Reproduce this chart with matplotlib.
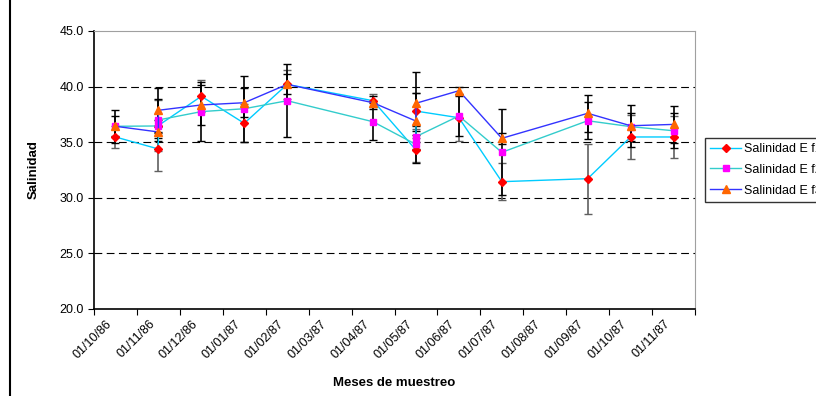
import numpy as np
import matplotlib.pyplot as plt
import matplotlib.transforms as mtransforms
from matplotlib.lines import Line2D

plt.rcParams['font.family'] = ['Liberation Sans', 'DejaVu Sans']

# sampling months (two samplings in 11/86 and 05/87)
muestreo = ['10/86', '11/86', '11/86', '12/86', '01/87', '02/87', '04/87',
            '05/87', '05/87', '06/87', '07/87', '09/87', '10/87', '11/87']

sal_f1 = [35.47, 34.39, 36.50, 39.13, 36.70, 40.20, 38.73,
          34.30, 37.80, 37.20, 31.45, 31.72, 35.47, 35.47]
err_f1 = [1.00, 2.00, 2.30, 1.44, 1.70, 1.30, 0.60,
          1.10, 1.60, 2.10, 1.65, 3.15, 1.97, 1.85]

sal_f2 = [36.43, 36.46, 37.00, 37.75, 38.01, 38.73, 36.84,
          34.80, 35.50, 37.36, 34.09, 36.93, 36.40, 36.03]
err_f2 = [0.90, 0.50, 1.90, 2.65, 2.97, 3.30, 1.65,
          1.70, 0.50, 1.80, 3.88, 1.65, 1.25, 1.57]

sal_f3 = [36.43, 35.92, 37.87, 38.35, 38.55, 40.20, 38.55,
          36.90, 38.50, 39.63, 35.35, 37.60, 36.48, 36.60]
err_f3 = [1.50, 0.50, 2.00, 1.80, 1.30, 0.90, 0.60,
          2.50, 2.84, 0.30, 0.50, 1.67, 1.90, 1.65]

tick_labels = ['01/10/86', '01/11/86', '01/12/86', '01/01/87', '01/02/87',
               '01/03/87', '01/04/87', '01/05/87', '01/06/87', '01/07/87',
               '01/08/87', '01/09/87', '01/10/87', '01/11/87']


def month_pos(s):
    m, y = s.split('/')
    return (int(y) - 86) * 12 + int(m) - 10 + 0.5


x = np.array([month_pos(s) for s in muestreo])

fig = plt.figure(figsize=(8.16, 3.96), dpi=100)
ax = fig.add_axes([94 / 816, 1 - 309 / 396, 601 / 816, 278 / 396])

for yv in [25, 30, 35, 40]:
    ax.axhline(yv, color='black', lw=0.8, ls=(0, (7, 4)), zorder=1)

series = [
    (sal_f1, err_f1, '#00CCFF', 'D', '#FF0000', 4.5, 'Salinidad E f1', '#606060'),
    (sal_f2, err_f2, '#33CCCC', 's', '#FF00FF', 5, 'Salinidad E f2', 'black'),
    (sal_f3, err_f3, '#3333FF', '^', '#FF6600', 6, 'Salinidad E f3', 'black'),
]

for vals, err, lc, mk, mc, ms, lab, ec in series:
    ax.errorbar(x, vals, yerr=err, fmt='none', ecolor=ec, elinewidth=1.2,
                capsize=3, capthick=1, zorder=2)

for vals, err, lc, mk, mc, ms, lab, ec in series:
    ax.plot(x, vals, color=lc, lw=1, marker=mk, ms=ms, mfc=mc, mec=mc,
            label=lab, zorder=3)

ax.set_xlim(0, 14)
ax.set_ylim(20, 45)
ax.set_xticks(np.arange(15))
ax.set_xticklabels([])
# rotated date labels, Excel-style: the end of each label sits right of its tick
shift = mtransforms.ScaledTranslation(16 / 100, -13 / 100, fig.dpi_scale_trans)
for i, t in enumerate(tick_labels):
    ax.text(i, 0, t, transform=ax.get_xaxis_transform() + shift,
            rotation=45, ha='right', va='center', rotation_mode='anchor',
            fontsize=9)
ax.set_yticks([20, 25, 30, 35, 40, 45])
ax.set_yticklabels(['%.1f' % v for v in [20, 25, 30, 35, 40, 45]], fontsize=9)
ax.tick_params(axis='both', direction='out', length=4, width=0.8, color='black')

ax.spines['left'].set_color('black')
ax.spines['bottom'].set_color('black')
ax.spines['left'].set_linewidth(1.2)
ax.spines['bottom'].set_linewidth(1.2)
ax.spines['top'].set_color('#A0A0A0')
ax.spines['right'].set_color('#A0A0A0')

ax.set_ylabel('Salinidad', fontsize=9.5, fontweight='bold', labelpad=14)
ax.set_xlabel('Meses de muestreo', fontsize=9.5, fontweight='bold')
ax.xaxis.set_label_coords(0.5, -0.245)

leg = ax.legend(loc='upper left', bbox_to_anchor=(705 / 816, 1 - 138 / 396),
                bbox_transform=fig.transFigure, fontsize=9, frameon=True,
                fancybox=False, edgecolor='black', borderpad=0.4,
                handlelength=2.5, handletextpad=0.2, labelspacing=0.7,
                borderaxespad=0)
leg.get_frame().set_linewidth(1)

fig.add_artist(Line2D([9.5 / 816, 9.5 / 816], [0, 1], color='black', lw=1.5,
                      transform=fig.transFigure))

fig.savefig('out.png', dpi=100)
